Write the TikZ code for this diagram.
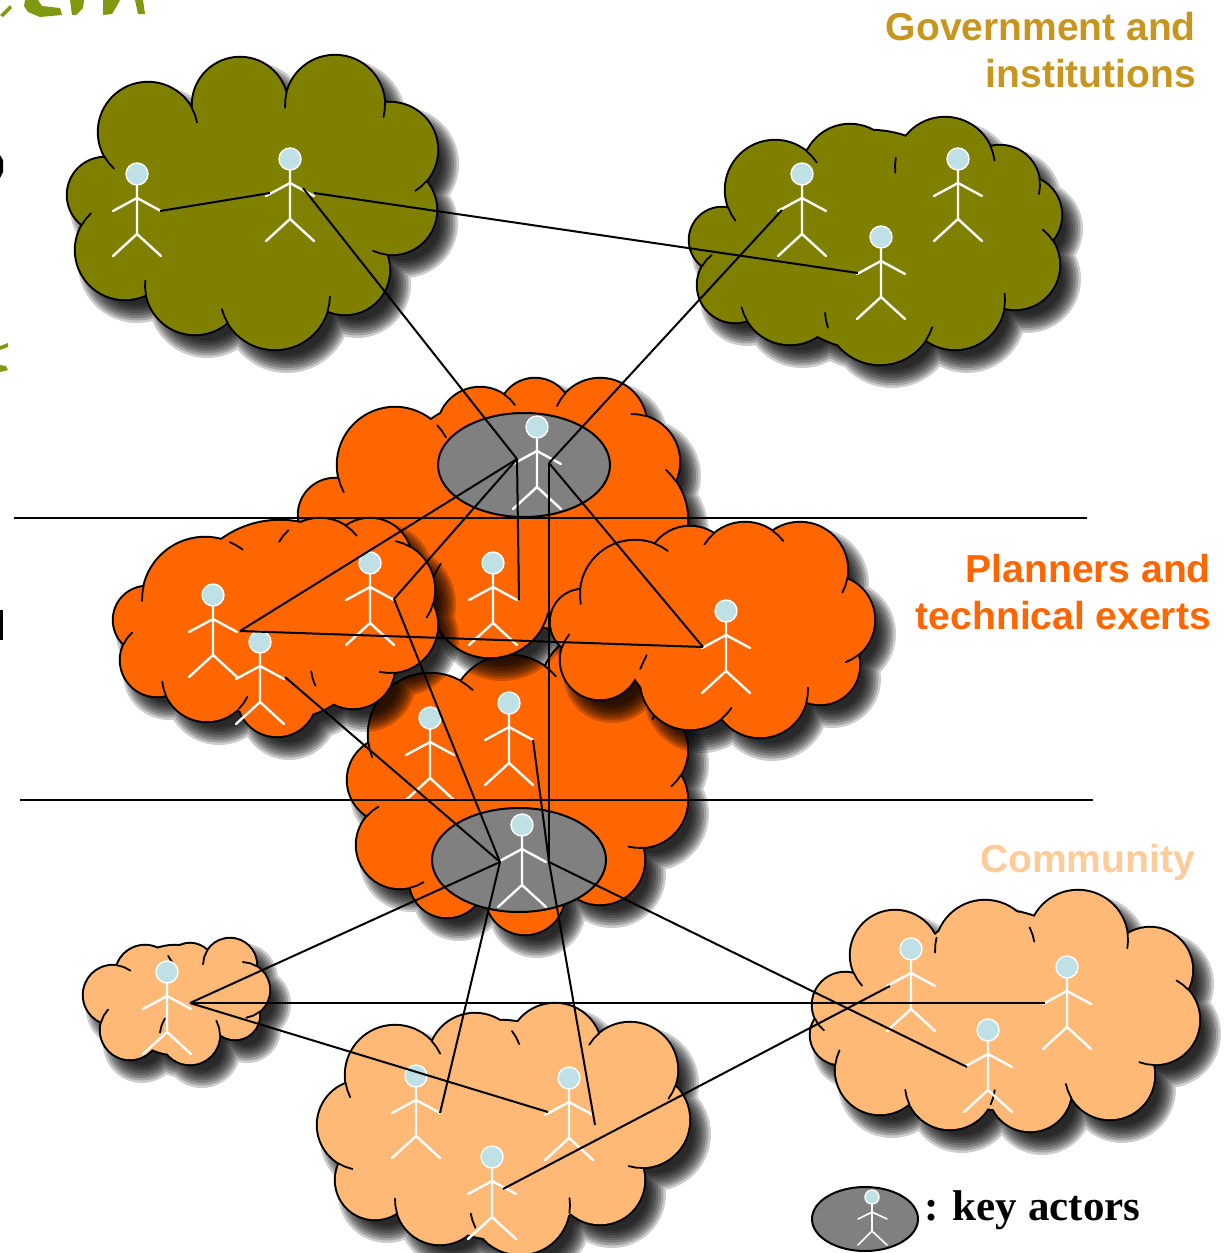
\documentclass[tikz,border=0pt]{standalone}
\usepackage{fontspec}
\setmainfont{Liberation Sans}
\newfontfamily\legendfont{Liberation Serif}
\definecolor{olivec}{HTML}{808000}
\definecolor{orangec}{HTML}{FF6600}
\definecolor{peachc}{HTML}{FFB977}
\definecolor{keyc}{HTML}{808080}
\definecolor{headc}{HTML}{BFE0E4}
\definecolor{govc}{HTML}{C8961E}
\definecolor{commc}{HTML}{FFCC99}
\definecolor{leafc}{HTML}{809A10}
\tikzset{
  headnode/.style={circle,fill=headc,draw=white,line width=1.4pt,inner sep=0pt,minimum size=22pt},
  stick/.style={draw=white,line width=2.4pt,line cap=round,line join=round},
  link/.style={draw=black,line width=2pt},
  keyell/.style={ellipse,fill=keyc,draw=black,line width=2pt,inner sep=0pt},
  caption/.style={font=\bfseries\fontsize{39}{47}\selectfont,align=right,anchor=east,inner sep=0pt},
  leaf/.style={fill=leafc,draw=none}
}
\usetikzlibrary{shapes.geometric}
\def\cloudfirst#1,#2\relax{#1}
% #1 colour, #2 rim bumps clockwise on screen, #3 inner circles
\newcommand{\mycloud}[3]{%
  \foreach \e in {9,6.5,4,1.5,-1,-3.5,-6,-8.5}{%
    \fill[black,opacity=.2]
      \foreach \a/\b/\c in {#2,#3}{({\a+12},{\b+14}) circle[radius=\c+\e]};
  }%
  \fill[black] \foreach \a/\b/\c in {#2,#3}{(\a,\b) circle[radius=\c+1.2]};
  \fill[#1] \foreach \a/\b/\c in {#2,#3}{(\a,\b) circle[radius=\c-0.8]};
  \edef\closedlist{#2,\cloudfirst#2,\relax}%
  \foreach \a/\b/\c [remember=\a as \pa (initially -1),remember=\b as \pb (initially -1),remember=\c as \pc (initially -1)] in \closedlist {%
    \ifnum\pa>-1\relax
      \pgfmathsetmacro\ux{(\a-\pa)/100}%
      \pgfmathsetmacro\uy{(\b-\pb)/100}%
      \pgfmathsetmacro\dd{sqrt(\ux*\ux+\uy*\uy)}%
      \pgfmathsetmacro\ra{\pc/100}%
      \pgfmathsetmacro\rb{\c/100}%
      \pgfmathsetmacro\aa{(\ra*\ra-\rb*\rb+\dd*\dd)/(2*\dd)}%
      \pgfmathsetmacro\hh{sqrt(max(\ra*\ra-\aa*\aa,0))}%
      \pgfmathsetmacro\px{\pa/100+\aa*\ux/\dd+\hh*\uy/\dd}%
      \pgfmathsetmacro\py{\pb/100+\aa*\uy/\dd-\hh*\ux/\dd}%
      \pgfmathsetmacro\cx{\ra>=\rb ? \pa/100 : \a/100}%
      \pgfmathsetmacro\cy{\ra>=\rb ? \pb/100 : \b/100}%
      \pgfmathsetmacro\sg{\ra>=\rb ? 1 : -1}%
      \pgfmathsetmacro\rr{max(\ra,\rb)}%
      \pgfmathsetmacro\th{atan2(\py-\cy,\px-\cx)}%
      \pgfmathsetmacro\dl{\sg*0.15/\rr*57.3}%
      \draw[black,line width=1.8pt,line cap=round,line join=round]
        ({100*\px},{100*\py})
        -- ({100*(\cx+\rr*cos(\th+\dl/2))},{100*(\cy+\rr*sin(\th+\dl/2))})
        -- ({100*(\cx+\rr*cos(\th+\dl))},{100*(\cy+\rr*sin(\th+\dl))});
    \fi
  }%
}
% #1 name, #2 x, #3 y of the head
\newcommand{\myactor}[3]{%
  \draw[stick] (#2,#3+10) -- (#2,#3+60) -- (#2-24,#3+82);
  \draw[stick] (#2,#3+60) -- (#2+24,#3+82);
  \draw[stick] (#2-24,#3+37) -- (#2,#3+24) -- (#2+24,#3+37);
  \node[headnode] (#1) at (#2,#3) {};
  \coordinate (#1-l) at (#2-24,#3+37);
  \coordinate (#1-r) at (#2+24,#3+37);
}
\begin{document}
\begin{tikzpicture}[x=1pt,y=-1pt]
\useasboundingbox (0,0) rectangle (1226,1253);
\fill[white] (0,0) rectangle (1226,1253);
% remains of the page behind
\fill[leaf] (0,15) -- (10,5) -- (12,8) -- (3,17) -- cycle;
\fill[leaf] (25,0) -- (38,0) -- (42,6) -- (60,8) -- (62,15) -- (40,17) -- (28,12) -- (24,6) -- cycle;
\fill[leaf] (70,0) -- (84,0) -- (83,8) -- (76,15) -- (72,15) -- cycle;
\fill[leaf] (103,0) -- (120,0) -- (118,4) -- (112,14) -- (103,15) -- cycle;
\fill[leaf] (135,0) -- (143,0) -- (145,14) -- (138,14) -- cycle;
\fill[leaf] (0,346) -- (8,343) -- (8,347) -- (0,350) -- cycle;
\fill[leaf] (0,365) -- (6,366) -- (8,370) -- (0,372) -- cycle;
\fill[black] (0,155) -- (3,160) -- (3,172) -- (0,178) -- cycle;
\fill[black] (0,610) rectangle (3,640);
% clouds
\mycloud{olivec}{148/132/50,240/105/48,335/105/50,390/150/48,392/210/45,345/270/45,275/295/55,195/285/50,125/250/50,105/195/38}{250/200/100,200/200/80,310/200/80}
\mycloud{olivec}{775/190/50,850/172/48,945/167/50,1000/185/40,1022/215/40,1015/265/45,955/300/50,880/310/55,790/295/50,735/285/38,722/240/33}{870/240/110,800/240/60,960/230/70}
\mycloud{orangec}{430/735/62,510/715/60,600/690/60,640/750/48,640/800/48,600/860/45,525/895/40,447/880/38,400/845/44,390/780/43}{520/790/110}
\mycloud{orangec}{335/515/37,395/465/58,480/430/43,535/415/37,600/425/47,632/462/48,620/520/68,560/580/50,490/598/60,400/540/50}{490/500/100}
\mycloud{orangec}{205/600/63,265/565/42,320/565/47,370/560/42,385/590/50,390/625/48,353/667/42,277/697/40,207/677/45,157/660/37,147/620/34}{280/620/100}
\mycloud{orangec}{583/622/33,635/595/55,690/570/44,745/570/48,800/570/48,830/620/45,820/665/40,760/690/48,690/680/50,600/660/40}{710/630/90}
\mycloud{peachc}{113/995/30,145/975/30,190/968/25,230/965/27,242/990/28,235/1015/25,190/1035/30,130/1030/30}{175/1000/55}
\mycloud{peachc}{395/1075/50,475/1060/47,555/1050/47,630/1070/48,642/1120/48,600/1180/45,520/1205/50,440/1200/45,375/1180/40,362/1125/45}{500/1130/110}
\mycloud{peachc}{845/1005/33,895/955/45,985/950/50,1078/940/50,1150/970/43,1155/1020/45,1110/1075/45,1030/1090/42,950/1085/45,880/1070/45,840/1035/30}{1000/1010/100,900/1015/55,1100/1000/65}
% key actor ellipses
\node[keyell,minimum width=172pt,minimum height=104pt] (keyTop) at (524,465) {};
\node[keyell,minimum width=174pt,minimum height=104pt] (keyBot) at (519,860) {};
% actors
\myactor{ga}{137}{174}
\myactor{gb}{290}{159}
\myactor{gc}{802}{174}
\myactor{gd}{958}{159}
\myactor{ge}{881}{237}
\myactor{kt}{537}{427}
\myactor{pa}{213}{595}
\myactor{pb}{370}{563}
\myactor{pc}{260}{642}
\myactor{pd}{493}{563}
\myactor{pe}{726}{611}
\myactor{pf}{430}{718}
\myactor{pg}{509}{703}
\myactor{kb}{522}{825}
\myactor{ca}{167}{972}
\myactor{cb}{416}{1076}
\myactor{cc}{569}{1078}
\myactor{cd}{492}{1157}
\myactor{ce}{911}{949}
\myactor{cf}{1067}{967}
\myactor{cg}{988}{1030}
% tier lines
\coordinate (t1a) at (14,518); \coordinate (t1b) at (1087,518);
\coordinate (t2a) at (20,800); \coordinate (t2b) at (1093,800);
\draw[link] (t1a) -- (t1b);
\draw[link] (t2a) -- (t2b);
% connector ends beside the key actors
\coordinate (ktL) at (517,459); \coordinate (ktR) at (549,463);
\coordinate (kbL) at (500,862); \coordinate (kbR) at (549,862);
\coordinate (gbL) at (303,188);
\coordinate (gcL) at (782,210);
\coordinate (pdR) at (519,600);
\coordinate (pgR) at (533,740);
\coordinate (ccR) at (595,1125);
\coordinate (cdR) at (503,1189);
\coordinate (ceL) at (890,986);
\coordinate (caR) at (190,1003);
\coordinate (cfL) at (1045,1003);
\coordinate (paR) at (240,631);
\coordinate (pbR) at (394,599);
\coordinate (peL) at (703,647);
\coordinate (pcR) at (285,677);
\coordinate (cbR) at (440,1113);
\coordinate (ccL) at (548,1112);
\coordinate (cgL) at (967,1067);
\coordinate (geL) at (858,273);
\coordinate (gbR) at (314,193);
\coordinate (gbLh) at (270,193);
\coordinate (gaR) at (160,211);
% connectors
\draw[link] (gaR) -- (gbLh);
\draw[link] (gbR) -- (geL);
\draw[link] (gbL) -- (ktL);
\draw[link] (gcL) -- (ktR);
\draw[link] (ktL) -- (paR);
\draw[link] (ktL) -- (pbR);
\draw[link] (ktL) -- (pdR);
\draw[link] (ktR) -- (kbR);
\draw[link] (ktR) -- (peL);
\draw[link] (paR) -- (peL);
\draw[link] (pcR) -- (kbL);
\draw[link] (pbR) -- (kbL);
\draw[link] (pgR) -- (kbR);
\draw[link] (kbL) -- (caR);
\draw[link] (kbL) -- (cbR);
\draw[link] (kbR) -- (ccR);
\draw[link] (kbR) -- (cgL);
\draw[link] (caR) -- (cfL);
\draw[link] (caR) -- (ccL);
\draw[link] (cdR) -- (ceL);
% captions
\node[caption,text=govc] (gov) at (1196,50) {Government and\\institutions};
\node[caption,text=orangec] (plan) at (1211,592) {Planners and\\technical exerts};
\node[caption,text=commc] (comm) at (1195,862) {Community};
% legend
\node[keyell,minimum width=106pt,minimum height=64pt] (legend) at (865,1219) {};
\draw[draw=white,line width=1.6pt,line cap=round] (872,1203) -- (872,1231) -- (858,1245);
\draw[draw=white,line width=1.6pt,line cap=round] (872,1231) -- (887,1245);
\draw[draw=white,line width=1.6pt,line cap=round] (858,1219) -- (872,1212) -- (887,1219);
\node[headnode,minimum size=14pt] (legendhead) at (872,1197) {};
\node[anchor=west,inner sep=0pt,font=\legendfont\bfseries\fontsize{43}{48}\selectfont] (legendtext) at (924,1210) {: key actors};
\end{tikzpicture}
\end{document}
